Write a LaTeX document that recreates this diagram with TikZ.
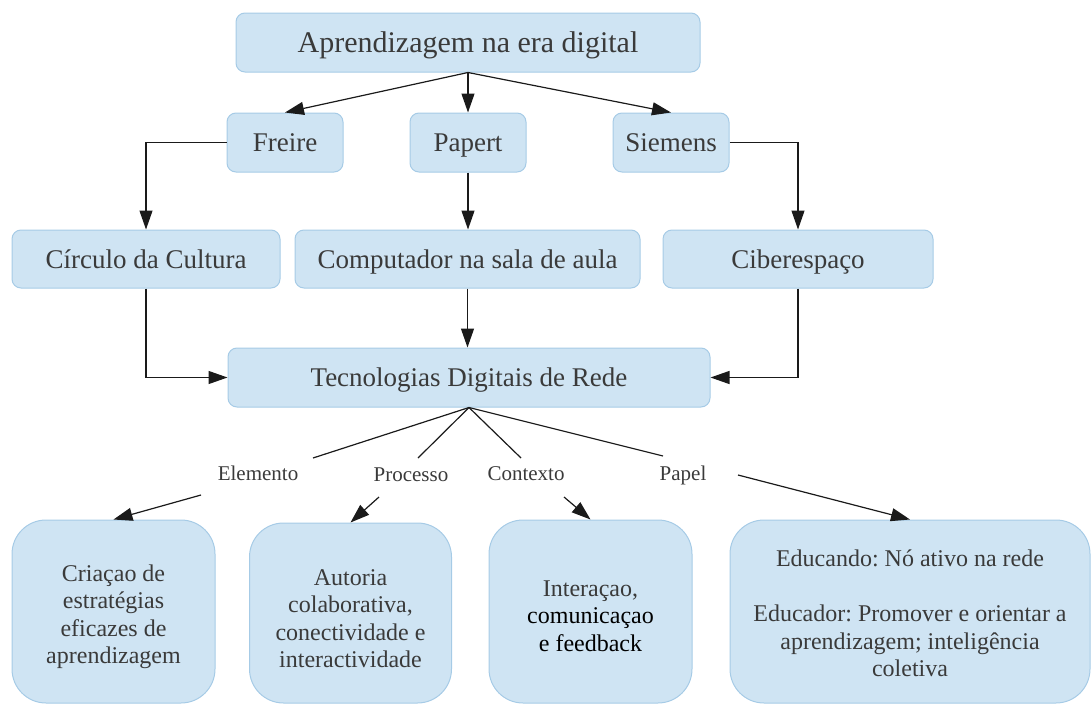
\documentclass[tikz,border=0pt]{standalone}
\usepackage{fontspec}
\setmainfont{Liberation Serif}
\usetikzlibrary{arrows.meta}
\definecolor{boxfill}{HTML}{CFE4F3}
\definecolor{boxline}{HTML}{A6CBE6}
\definecolor{txt}{HTML}{3A3A3A}
\definecolor{lineclr}{HTML}{1A1A1A}
\tikzset{
  box/.style={draw=boxline, fill=boxfill, rounded corners=9pt, line width=1pt,
    inner sep=0pt, text=txt, font=\fontsize{27}{30}\selectfont,
    text height=21pt, text depth=3pt},
  titlebox/.style={box, font=\fontsize{30}{34}\selectfont, text height=23pt, text depth=4pt},
  bigbox/.style={draw=boxline, fill=boxfill, line width=1pt, inner sep=0pt,
    text=txt, rounded corners=34pt, align=center,
    font=\fontsize{24}{27.5}\selectfont},
  lbl/.style={text=txt, font=\fontsize{21}{24}\selectfont, inner sep=0pt,
    text height=14pt, text depth=5pt},
  conn/.style={line width=1.2pt, draw=lineclr},
  arr/.style={conn, -{Triangle[length=19pt,width=13pt]}},
}
\begin{document}
\frenchspacing
\begin{tikzpicture}[x=1pt,y=-1pt]
\useasboundingbox (0,0) rectangle (1092,704);
% top
\node[titlebox, minimum width=464pt, minimum height=59pt] (top) at (468,42.5) {Aprendizagem na era digital};
% second row
\node[box, minimum width=116pt, minimum height=59pt] (freire) at (285,142.5) {Freire};
\node[box, minimum width=116pt, minimum height=59pt] (papert) at (468,142.5) {Papert};
\node[box, minimum width=116pt, minimum height=59pt] (siemens) at (671,142.5) {Siemens};
% third row
\node[box, minimum width=268pt, minimum height=58pt] (circulo) at (146,259) {Círculo da Cultura};
\node[box, minimum width=345pt, minimum height=58pt] (comp) at (467.5,259) {Computador na sala de aula};
\node[box, minimum width=270pt, minimum height=58pt] (ciber) at (798,259) {Ciberespaço};
% central
\node[box, minimum width=482pt, minimum height=59pt] (tec) at (469,377.5) {Tecnologias Digitais de Rede};
% bottom boxes
\node[bigbox, minimum width=203pt, minimum height=183pt] (b1) at (113.5,611.5) {\rule{0pt}{27pt}Criaçao de\\estratégias\\eficazes de\\aprendizagem};
\node[bigbox, minimum width=202pt, minimum height=180pt] (b2) at (350.5,613) {\rule{0pt}{27pt}Autoria\\colaborativa,\\conectividade e\\interactividade};
\node[bigbox, minimum width=203pt, minimum height=183pt] (b3) at (590.5,611.5) {\rule{0pt}{25pt}Interaçao,\\\textcolor{black}{comunicaçao}\\\textcolor{black}{e feedback}};
\node[bigbox, minimum width=360pt, minimum height=183pt] (b4) at (910,611.5) {\rule{0pt}{21pt}Educando: Nó ativo na rede\\[27.5pt]Educador: Promover e orientar a\\aprendizagem; inteligência\\coletiva};
% edge labels
\node[lbl] (lelem) at (258,476) {Elemento};
\node[lbl] (lproc) at (411,477) {Processo};
\node[lbl] (lcont) at (526,476) {Contexto};
\node[lbl] (lpap) at (683,476) {Papel};
\coordinate (e1) at (313,458);
\coordinate (p1) at (418,458);
\coordinate (c1) at (521,458);
\coordinate (q1) at (663,456);
\coordinate (e2) at (201,495);
\coordinate (p2) at (379,497);
\coordinate (c2) at (564,497);
\coordinate (q2) at (738,475);
% connectors top
\draw[arr] (top.south) -- (freire.north);
\draw[arr] (top.south) -- (papert.north);
\draw[arr] (top.south) -- (siemens.north);
\draw[arr] (freire.west) -| (circulo.north);
\draw[arr] (papert.south) -- (papert.south |- comp.north);
\draw[arr] (siemens.east) -| (ciber.north);
\draw[arr] (circulo.south) |- (tec.west);
\draw[arr] (comp.south) -- (comp.south |- tec.north);
\draw[arr] (ciber.south) |- (tec.east);
% connectors bottom
\draw[conn] (tec.south) -- (e1);
\draw[conn] (tec.south) -- (p1);
\draw[conn] (tec.south) -- (c1);
\draw[conn] (tec.south) -- (q1);
\draw[arr] (e2) -- (b1.north);
\draw[arr] (p2) -- (b2.north);
\draw[arr] (c2) -- (b3.north);
\draw[arr] (q2) -- (b4.north);
\end{tikzpicture}
\end{document}
